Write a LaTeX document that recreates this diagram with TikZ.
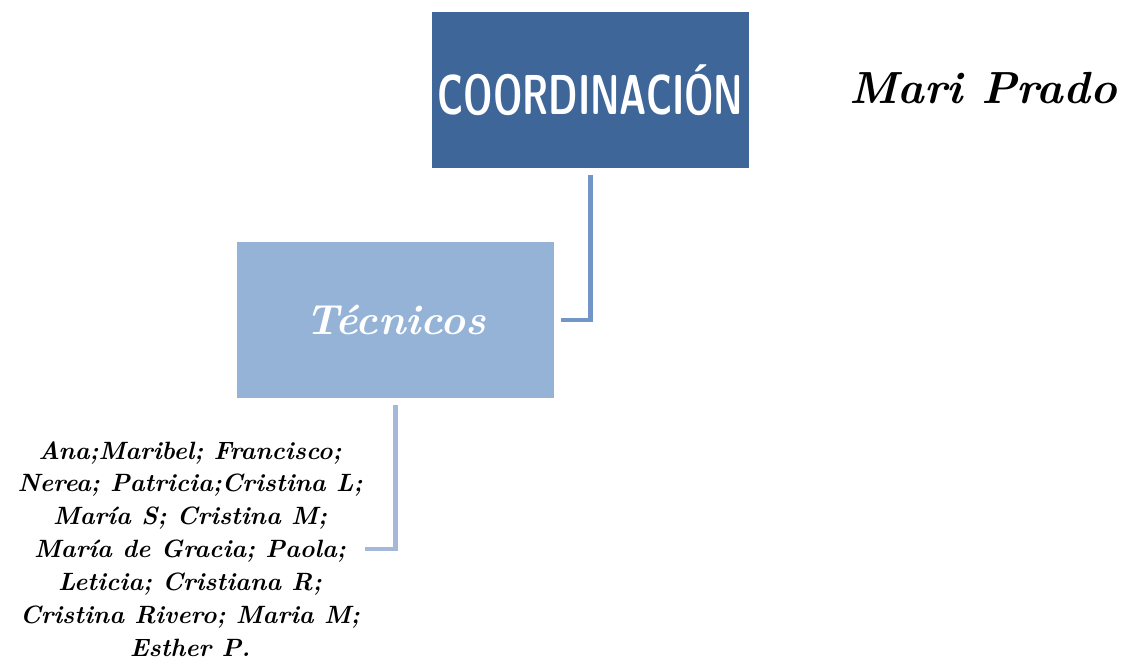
\documentclass[tikz,border=0pt]{standalone}
\usepackage{fontspec}
\definecolor{coordblue}{HTML}{3F6698}
\definecolor{tecblue}{HTML}{95B3D7}
\definecolor{linkA}{HTML}{7396C9}
\definecolor{linkB}{HTML}{A4B8DA}
\begin{document}
\begin{tikzpicture}[x=0.025cm,y=-0.025cm]
	\tikzstyle{every node}+=[inner sep=0pt]
	\tikzstyle{box}=[minimum width=7.925cm, minimum height=3.9cm, text=white]
	\tikzstyle{link}=[line width=3.5pt, shorten <=0.175cm, shorten >=0.175cm]
	\useasboundingbox (0,0) rectangle (1121,663);
	\node [box, fill=coordblue, font=\fontsize{40}{44}\selectfont\sffamily\bfseries] (coord) at (590.5,90) {\scalebox{0.66}[1]{COORDINACIÓN}};
	\node [box, fill=tecblue, font=\fontsize{30}{34}\selectfont\bfseries\itshape] (tec) at (395.5,320) {Técnicos};
	\node [font=\fontsize{32}{36}\selectfont\bfseries\itshape] (mari) at (983,88) {Mari Prado};
	\node [align=center, font=\fontsize{17.8}{23.4}\selectfont\bfseries\itshape] (lista) at (190,549) {%
		Ana;Maribel; Francisco;\\
		Nerea; Patricia;Cristina L;\\
		María S; Cristina M;\\
		María de Gracia; Paola;\\
		Leticia; Cristiana R;\\
		Cristina Rivero; Maria M;\\
		Esther P.};
	\draw [link, linkA] (coord.south) |- (tec.east);
	\draw [link, linkB, shorten >=0.05cm] (tec.south) |- (lista.east);
\end{tikzpicture}
\end{document}
